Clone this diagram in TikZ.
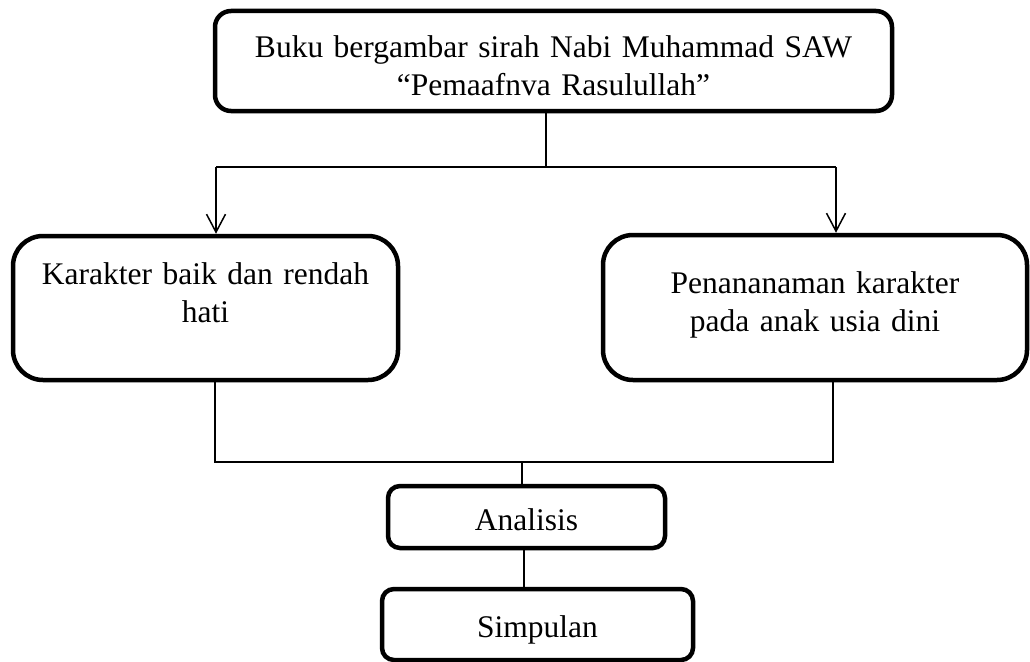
\documentclass[tikz,border=0pt]{standalone}
\usepackage{fontspec}
\setmainfont{Liberation Serif}
\usetikzlibrary{arrows.meta}
\begin{document}
\begin{tikzpicture}[x=1pt,y=-1pt,
  boxstyle/.style={draw=black, line width=4.5pt, align=center, inner sep=0pt,
    font=\fontsize{31.5}{38}\selectfont, text height=0pt},
  conn/.style={draw=black, line width=1.5pt},
  arr/.style={conn, -{Straight Barb[length=18pt,width=19pt,line width=1.5pt]}}
]
\useasboundingbox (0,0) rectangle (1030,661);

\node[boxstyle, rounded corners=16pt, minimum width=677pt, minimum height=100pt,
      text width=660pt, text depth=8pt] (top) at (553.5,61)
  {Buku bergambar sirah Nabi Muhammad SAW\\“Pemaafnva Rasulullah”};

\node[boxstyle, rounded corners=30pt, minimum width=385pt, minimum height=144pt,
      text width=370pt, text depth=48pt] (left) at (205.5,308)
  {Karakter baik dan rendah\\hati};

\node[boxstyle, rounded corners=30pt, minimum width=424pt, minimum height=145pt,
      text width=400pt, text depth=29pt] (right) at (815,307.5)
  {Penananaman karakter\\pada anak usia dini};

\node[boxstyle, rounded corners=12pt, minimum width=277pt, minimum height=62pt,
      text width=260pt, text height=26pt, text depth=0pt] (ana) at (526.5,517)
  {Analisis};

\node[boxstyle, rounded corners=12pt, minimum width=311pt, minimum height=71pt,
      text width=290pt, text height=25pt, text depth=0pt] (simp) at (537.5,624.5)
  {Simpulan};

% top split
\coordinate (split) at (546,167);
\coordinate (la) at (216,167);
\coordinate (ra) at (836,167);
\draw[conn] (split |- top.south) -- (split);
\draw[conn] (la) -- (ra);
\draw[arr] (la) -- (la |- left.north);
\draw[arr] (ra) -- (ra |- right.north);

% join
\coordinate (lj) at (215,462);
\coordinate (rj) at (833,462);
\coordinate (mj) at (522,462);
\draw[conn] (lj |- left.south) -- (lj) -- (rj) -- (rj |- right.south);
\draw[conn] (mj) -- (mj |- ana.north);

\coordinate (k) at (524,570);
\draw[conn] (k |- ana.south) -- (k |- simp.north);
\end{tikzpicture}
\end{document}
